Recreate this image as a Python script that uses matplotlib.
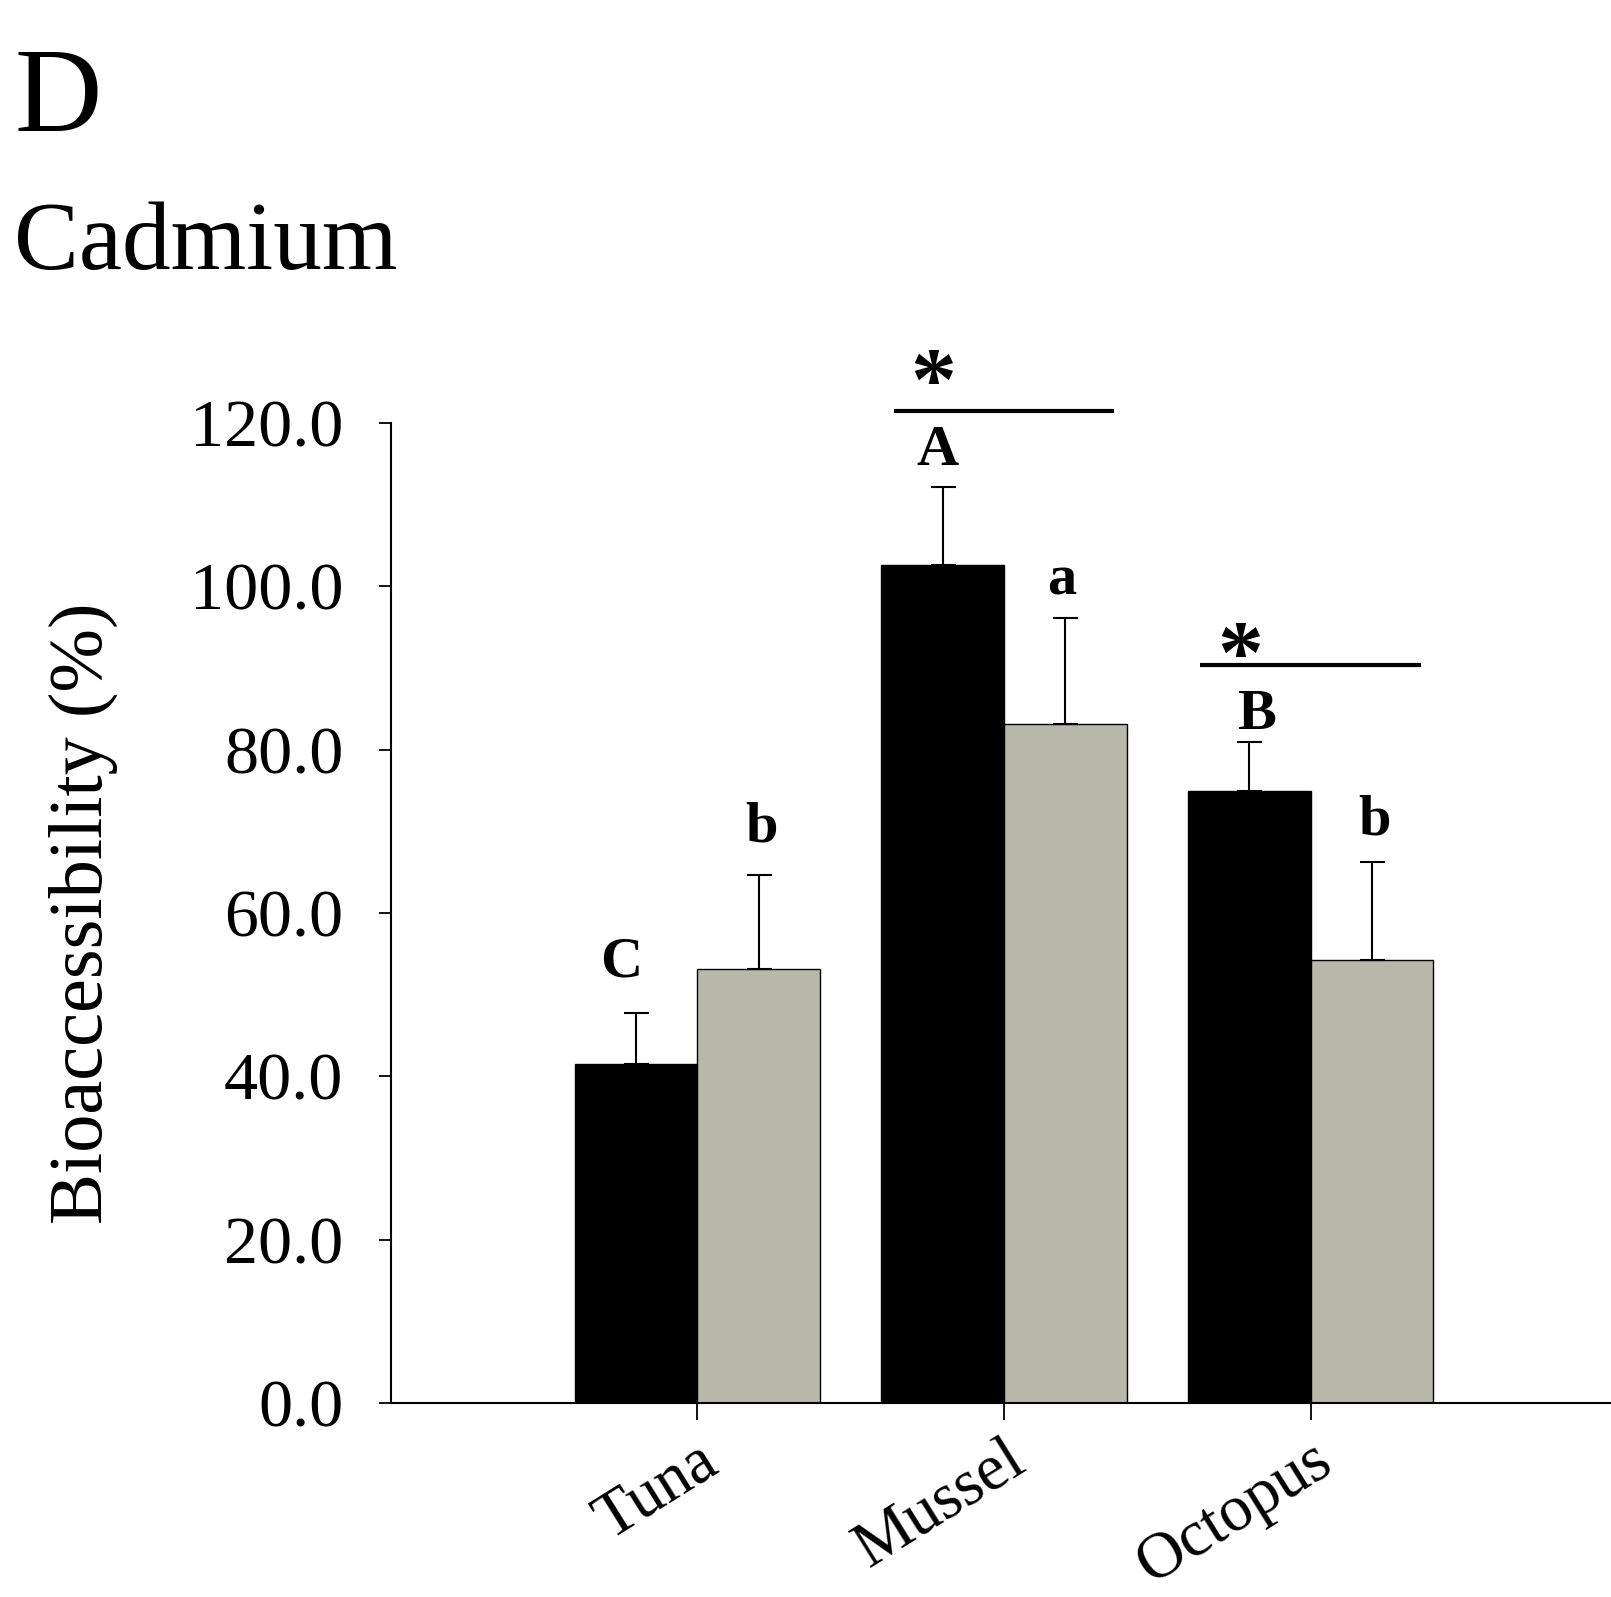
import matplotlib
matplotlib.use("Agg")
from matplotlib import pyplot as plt
import numpy as np

# data
species = ["Tuna", "Mussel", "Octopus"]
black_vals = [41.5, 102.6, 75.0]
black_err = [6.3, 9.6, 6.0]
gray_vals = [53.2, 83.1, 54.2]
gray_err = [11.5, 13.0, 12.1]
black_letters = ["C", "A", "B"]
gray_letters = ["b", "a", "b"]
yticks = [0, 20, 40, 60, 80, 100, 120]

plt.rcParams['font.family'] = ['Liberation Serif', 'DejaVu Serif']

fig = plt.figure(figsize=(16.11, 15.97), dpi=100)
ax = fig.add_axes([0.2425, 0.1215, 0.7575, 0.6136])

x = np.arange(len(species))
w = 0.4
gray = '#b7b7aa'

ax.bar(x - w / 2, black_vals, w, color='black', edgecolor='black', linewidth=1)
ax.bar(x + w / 2, gray_vals, w, color=gray, edgecolor='black', linewidth=1)
ax.errorbar(x - w / 2, black_vals, yerr=[np.zeros(3), black_err], fmt='none',
            ecolor='black', elinewidth=1.5, capsize=9, capthick=1.5)
ax.errorbar(x + w / 2, gray_vals, yerr=[np.zeros(3), gray_err], fmt='none',
            ecolor='black', elinewidth=1.5, capsize=9, capthick=1.5)

# letters above bars (small offsets to sit where the original has them)
black_gap = [3.0, 1.2, 0.1]
gray_gap = [2.6, 1.4, 1.8]
black_dx = [-0.047, -0.017, 0.023]
gray_dx = [0.01, -0.01, 0.01]
for i in range(3):
    ax.text(x[i] - w / 2 + black_dx[i], black_vals[i] + black_err[i] + black_gap[i], black_letters[i],
            ha='center', va='bottom', fontsize=42, fontweight='bold')
    ax.text(x[i] + w / 2 + gray_dx[i], gray_vals[i] + gray_err[i] + gray_gap[i], gray_letters[i],
            ha='center', va='bottom', fontsize=42, fontweight='bold')

# significance lines
for xi, yl, dy in [(1, 121.5, -2.2), (2, 90.4, -4.5)]:
    ax.plot([xi - 0.36, xi + 0.36], [yl, yl], color='black', lw=3, clip_on=False,
            solid_capstyle='butt')
    ax.text(xi - 0.23, yl + dy, '*', ha='center', va='bottom', fontsize=66,
            fontweight='bold', clip_on=False)

ax.set_xlim(-1.0, 2.98)
ax.set_ylim(0, 120)
ax.set_yticks(yticks)
ax.set_yticklabels([f"{v:.1f}" for v in yticks], fontsize=49)
ax.set_xticks(x)
ax.set_xticklabels(species, fontsize=47, rotation=32, ha='right', rotation_mode='anchor')
ax.tick_params(axis='y', length=9, width=1.3, pad=25)
ax.tick_params(axis='x', length=12, width=1.3, pad=8)
ax.set_ylabel("Bioaccessibility (%)", fontsize=55, labelpad=52)

for s in ['top', 'right']:
    ax.spines[s].set_visible(False)
for s in ['left', 'bottom']:
    ax.spines[s].set_linewidth(1.5)

fig.text(0.009, 0.918, "D", fontsize=87, va='baseline')
fig.text(0.009, 0.8315, "Cadmium", fontsize=70, va='baseline')

plt.savefig("out.png", dpi=100)
